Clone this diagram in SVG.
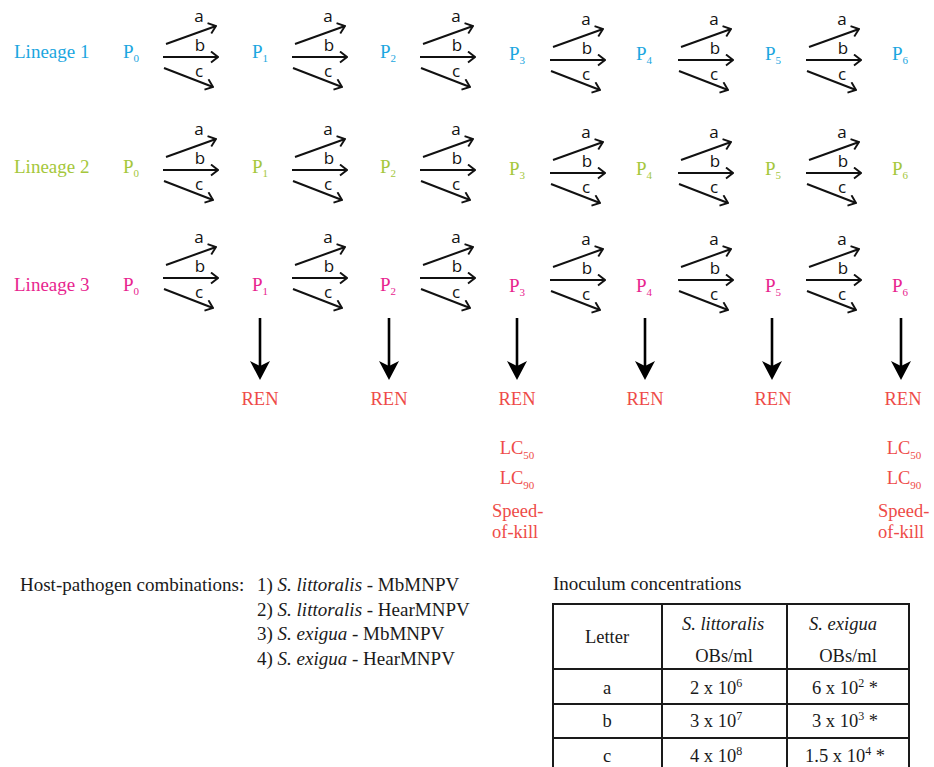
<svg xmlns="http://www.w3.org/2000/svg" width="934" height="767" viewBox="0 0 934 767">
<style>
.serif{font-family:"Liberation Serif","Times New Roman",serif;}
.lab{font-family:"Open Sans","DejaVu Sans",sans-serif;font-size:17px;fill:#111;text-anchor:middle;}
.l1{fill:#1BA6E0;}
.l2{fill:#A5C73C;}
.l3{fill:#E8258F;}
.red{fill:#EE4B48;}
.big{font-size:19px;}
.arr{stroke:#111;stroke-width:2;fill:none;marker-end:url(#open);}
.down{stroke:#000;stroke-width:2.6;}
.txt{font-size:19px;fill:#1a1a1a;}
.tb{font-size:18.5px;fill:#1a1a1a;text-anchor:middle;}
.grid{stroke:#1a1a1a;stroke-width:2;fill:none;}
</style>
<defs>
<marker id="open" viewBox="0 0 9 13" refX="8" refY="6.5" markerWidth="9" markerHeight="13" orient="auto" markerUnits="userSpaceOnUse">
<path d="M1,1 L8,6.5 L1,12" fill="none" stroke="#111" stroke-width="1.9"/>
</marker>
<path id="dhead" d="M0,0 L-10,-19 L0,-14 L10,-19 Z" fill="#000"/>
</defs>

<g id="lineage-labels" class="serif big">
<text id="lineage1" class="l1" x="14" y="58">Lineage 1</text>
<text id="lineage2" class="l2" x="14" y="173">Lineage 2</text>
<text id="lineage3" class="l3" x="14" y="291">Lineage 3</text>
</g>

<g id="row1" class="serif big l1">
<g id="r1p0"><text x="123" y="58">P<tspan dy="4" font-size="11">0</tspan></text></g>
<g id="r1p1"><text x="252" y="58">P<tspan dy="4" font-size="11">1</tspan></text></g>
<g id="r1p2"><text x="380" y="58">P<tspan dy="4" font-size="11">2</tspan></text></g>
<g id="r1p3"><text x="509" y="60">P<tspan dy="4" font-size="11">3</tspan></text></g>
<g id="r1p4"><text x="636" y="60">P<tspan dy="4" font-size="11">4</tspan></text></g>
<g id="r1p5"><text x="765" y="60">P<tspan dy="4" font-size="11">5</tspan></text></g>
<g id="r1p6"><text x="892" y="60">P<tspan dy="4" font-size="11">6</tspan></text></g>
</g>
<g id="row2" class="serif big l2">
<g id="r2p0"><text x="123" y="173">P<tspan dy="4" font-size="11">0</tspan></text></g>
<g id="r2p1"><text x="252" y="173">P<tspan dy="4" font-size="11">1</tspan></text></g>
<g id="r2p2"><text x="380" y="173">P<tspan dy="4" font-size="11">2</tspan></text></g>
<g id="r2p3"><text x="509" y="175">P<tspan dy="4" font-size="11">3</tspan></text></g>
<g id="r2p4"><text x="636" y="175">P<tspan dy="4" font-size="11">4</tspan></text></g>
<g id="r2p5"><text x="765" y="175">P<tspan dy="4" font-size="11">5</tspan></text></g>
<g id="r2p6"><text x="892" y="175">P<tspan dy="4" font-size="11">6</tspan></text></g>
</g>
<g id="row3" class="serif big l3">
<g id="r3p0"><text x="123" y="291">P<tspan dy="4" font-size="11">0</tspan></text></g>
<g id="r3p1"><text x="252" y="291">P<tspan dy="4" font-size="11">1</tspan></text></g>
<g id="r3p2"><text x="380" y="291">P<tspan dy="4" font-size="11">2</tspan></text></g>
<g id="r3p3"><text x="509" y="292">P<tspan dy="4" font-size="11">3</tspan></text></g>
<g id="r3p4"><text x="636" y="292">P<tspan dy="4" font-size="11">4</tspan></text></g>
<g id="r3p5"><text x="765" y="292">P<tspan dy="4" font-size="11">5</tspan></text></g>
<g id="r3p6"><text x="892" y="292">P<tspan dy="4" font-size="11">6</tspan></text></g>
</g>

<g id="connectors">
<g transform="translate(163,57)"><line class="arr" x1="3" y1="-13" x2="53" y2="-31"/><line class="arr" x1="0" y1="0" x2="55" y2="0"/><line class="arr" x1="1" y1="11" x2="50" y2="30"/><text class="lab" x="36" y="-35">a</text><text class="lab" x="37" y="-6">b</text><text class="lab" x="36" y="20">c</text></g>
<g transform="translate(292,57)"><line class="arr" x1="3" y1="-13" x2="53" y2="-31"/><line class="arr" x1="0" y1="0" x2="55" y2="0"/><line class="arr" x1="1" y1="11" x2="50" y2="30"/><text class="lab" x="36" y="-35">a</text><text class="lab" x="37" y="-6">b</text><text class="lab" x="36" y="20">c</text></g>
<g transform="translate(420,57)"><line class="arr" x1="3" y1="-13" x2="53" y2="-31"/><line class="arr" x1="0" y1="0" x2="55" y2="0"/><line class="arr" x1="1" y1="11" x2="50" y2="30"/><text class="lab" x="36" y="-35">a</text><text class="lab" x="37" y="-6">b</text><text class="lab" x="36" y="20">c</text></g>
<g transform="translate(550,60)"><line class="arr" x1="3" y1="-13" x2="53" y2="-31"/><line class="arr" x1="0" y1="0" x2="55" y2="0"/><line class="arr" x1="1" y1="11" x2="50" y2="30"/><text class="lab" x="36" y="-35">a</text><text class="lab" x="37" y="-6">b</text><text class="lab" x="36" y="20">c</text></g>
<g transform="translate(678,60)"><line class="arr" x1="3" y1="-13" x2="53" y2="-31"/><line class="arr" x1="0" y1="0" x2="55" y2="0"/><line class="arr" x1="1" y1="11" x2="50" y2="30"/><text class="lab" x="36" y="-35">a</text><text class="lab" x="37" y="-6">b</text><text class="lab" x="36" y="20">c</text></g>
<g transform="translate(806,60)"><line class="arr" x1="3" y1="-13" x2="53" y2="-31"/><line class="arr" x1="0" y1="0" x2="55" y2="0"/><line class="arr" x1="1" y1="11" x2="50" y2="30"/><text class="lab" x="36" y="-35">a</text><text class="lab" x="37" y="-6">b</text><text class="lab" x="36" y="20">c</text></g>

<g transform="translate(163,170)"><line class="arr" x1="3" y1="-13" x2="53" y2="-31"/><line class="arr" x1="0" y1="0" x2="55" y2="0"/><line class="arr" x1="1" y1="11" x2="50" y2="30"/><text class="lab" x="36" y="-35">a</text><text class="lab" x="37" y="-6">b</text><text class="lab" x="36" y="20">c</text></g>
<g transform="translate(292,170)"><line class="arr" x1="3" y1="-13" x2="53" y2="-31"/><line class="arr" x1="0" y1="0" x2="55" y2="0"/><line class="arr" x1="1" y1="11" x2="50" y2="30"/><text class="lab" x="36" y="-35">a</text><text class="lab" x="37" y="-6">b</text><text class="lab" x="36" y="20">c</text></g>
<g transform="translate(420,170)"><line class="arr" x1="3" y1="-13" x2="53" y2="-31"/><line class="arr" x1="0" y1="0" x2="55" y2="0"/><line class="arr" x1="1" y1="11" x2="50" y2="30"/><text class="lab" x="36" y="-35">a</text><text class="lab" x="37" y="-6">b</text><text class="lab" x="36" y="20">c</text></g>
<g transform="translate(550,173)"><line class="arr" x1="3" y1="-13" x2="53" y2="-31"/><line class="arr" x1="0" y1="0" x2="55" y2="0"/><line class="arr" x1="1" y1="11" x2="50" y2="30"/><text class="lab" x="36" y="-35">a</text><text class="lab" x="37" y="-6">b</text><text class="lab" x="36" y="20">c</text></g>
<g transform="translate(678,173)"><line class="arr" x1="3" y1="-13" x2="53" y2="-31"/><line class="arr" x1="0" y1="0" x2="55" y2="0"/><line class="arr" x1="1" y1="11" x2="50" y2="30"/><text class="lab" x="36" y="-35">a</text><text class="lab" x="37" y="-6">b</text><text class="lab" x="36" y="20">c</text></g>
<g transform="translate(806,173)"><line class="arr" x1="3" y1="-13" x2="53" y2="-31"/><line class="arr" x1="0" y1="0" x2="55" y2="0"/><line class="arr" x1="1" y1="11" x2="50" y2="30"/><text class="lab" x="36" y="-35">a</text><text class="lab" x="37" y="-6">b</text><text class="lab" x="36" y="20">c</text></g>

<g transform="translate(163,278)"><line class="arr" x1="3" y1="-13" x2="53" y2="-31"/><line class="arr" x1="0" y1="0" x2="55" y2="0"/><line class="arr" x1="1" y1="11" x2="50" y2="30"/><text class="lab" x="36" y="-35">a</text><text class="lab" x="37" y="-6">b</text><text class="lab" x="36" y="20">c</text></g>
<g transform="translate(292,278)"><line class="arr" x1="3" y1="-13" x2="53" y2="-31"/><line class="arr" x1="0" y1="0" x2="55" y2="0"/><line class="arr" x1="1" y1="11" x2="50" y2="30"/><text class="lab" x="36" y="-35">a</text><text class="lab" x="37" y="-6">b</text><text class="lab" x="36" y="20">c</text></g>
<g transform="translate(420,278)"><line class="arr" x1="3" y1="-13" x2="53" y2="-31"/><line class="arr" x1="0" y1="0" x2="55" y2="0"/><line class="arr" x1="1" y1="11" x2="50" y2="30"/><text class="lab" x="36" y="-35">a</text><text class="lab" x="37" y="-6">b</text><text class="lab" x="36" y="20">c</text></g>
<g transform="translate(550,280)"><line class="arr" x1="3" y1="-13" x2="53" y2="-31"/><line class="arr" x1="0" y1="0" x2="55" y2="0"/><line class="arr" x1="1" y1="11" x2="50" y2="30"/><text class="lab" x="36" y="-35">a</text><text class="lab" x="37" y="-6">b</text><text class="lab" x="36" y="20">c</text></g>
<g transform="translate(678,280)"><line class="arr" x1="3" y1="-13" x2="53" y2="-31"/><line class="arr" x1="0" y1="0" x2="55" y2="0"/><line class="arr" x1="1" y1="11" x2="50" y2="30"/><text class="lab" x="36" y="-35">a</text><text class="lab" x="37" y="-6">b</text><text class="lab" x="36" y="20">c</text></g>
<g transform="translate(806,280)"><line class="arr" x1="3" y1="-13" x2="53" y2="-31"/><line class="arr" x1="0" y1="0" x2="55" y2="0"/><line class="arr" x1="1" y1="11" x2="50" y2="30"/><text class="lab" x="36" y="-35">a</text><text class="lab" x="37" y="-6">b</text><text class="lab" x="36" y="20">c</text></g>

<g id="down-arrows">
<line class="down" x1="260" y1="318" x2="260" y2="368"/><use href="#dhead" x="260" y="380"/>
<line class="down" x1="389" y1="318" x2="389" y2="368"/><use href="#dhead" x="389" y="380"/>
<line class="down" x1="517" y1="318" x2="517" y2="368"/><use href="#dhead" x="517" y="380"/>
<line class="down" x1="645" y1="318" x2="645" y2="368"/><use href="#dhead" x="645" y="380"/>
<line class="down" x1="772" y1="318" x2="772" y2="368"/><use href="#dhead" x="772" y="380"/>
<line class="down" x1="901" y1="318" x2="901" y2="368"/><use href="#dhead" x="901" y="380"/>
</g>
</g>

<g id="ren" class="serif red" font-size="18.5" text-anchor="middle">
<g id="ren1"><text x="260" y="405">REN</text></g>
<g id="ren2"><text x="389" y="405">REN</text></g>
<g id="ren3"><text x="517" y="405">REN</text></g>
<g id="ren4"><text x="645" y="405">REN</text></g>
<g id="ren5"><text x="773" y="405">REN</text></g>
<g id="ren6"><text x="903" y="405">REN</text></g>
</g>

<g id="measures-p3" class="serif red" font-size="18.5">
<text x="517" y="454" text-anchor="middle">LC<tspan dy="5" font-size="11">50</tspan></text>
<text x="517" y="484" text-anchor="middle">LC<tspan dy="5" font-size="11">90</tspan></text>
<text x="492" y="517">Speed-</text>
<text x="492" y="538">of-kill</text>
</g>
<g id="measures-p6" class="serif red" font-size="18.5">
<text x="904" y="454" text-anchor="middle">LC<tspan dy="5" font-size="11">50</tspan></text>
<text x="904" y="484" text-anchor="middle">LC<tspan dy="5" font-size="11">90</tspan></text>
<text x="878" y="517">Speed-</text>
<text x="878" y="538">of-kill</text>
</g>

<g id="combinations" class="serif txt">
<text x="20" y="591">Host-pathogen combinations:</text>
<text x="257" y="591">1) <tspan font-style="italic">S. littoralis</tspan> - MbMNPV</text>
<text x="257" y="615.5">2) <tspan font-style="italic">S. littoralis</tspan> - HearMNPV</text>
<text x="257" y="640">3) <tspan font-style="italic">S. exigua</tspan> - MbMNPV</text>
<text x="257" y="664.5">4) <tspan font-style="italic">S. exigua</tspan> - HearMNPV</text>
</g>

<g id="inoculum-table" class="serif">
<text class="txt" x="553" y="590">Inoculum concentrations</text>
<rect class="grid" x="553" y="604" width="356" height="190"/>
<line class="grid" x1="662" y1="604" x2="662" y2="790"/>
<line class="grid" x1="787" y1="604" x2="787" y2="790"/>
<line class="grid" x1="553" y1="669" x2="909" y2="669"/>
<line class="grid" x1="553" y1="704" x2="909" y2="704"/>
<line class="grid" x1="553" y1="738" x2="909" y2="738"/>
<text class="tb" x="607" y="643">Letter</text>
<text class="tb" x="723" y="630" font-style="italic">S. littoralis</text>
<text class="tb" x="724" y="662">OBs/ml</text>
<text class="tb" x="843" y="630" font-style="italic">S. exigua</text>
<text class="tb" x="848" y="662">OBs/ml</text>
<text class="tb" x="607" y="694">a</text>
<text class="tb" x="716" y="694">2 x 10<tspan dy="-7" font-size="12">6</tspan></text>
<text class="tb" x="845" y="694">6 x 10<tspan dy="-7" font-size="12">2</tspan><tspan dy="7"> *</tspan></text>
<text class="tb" x="607" y="727">b</text>
<text class="tb" x="716" y="727">3 x 10<tspan dy="-7" font-size="12">7</tspan></text>
<text class="tb" x="845" y="727">3 x 10<tspan dy="-7" font-size="12">3</tspan><tspan dy="7"> *</tspan></text>
<text class="tb" x="607" y="762">c</text>
<text class="tb" x="716" y="762">4 x 10<tspan dy="-7" font-size="12">8</tspan></text>
<text class="tb" x="845" y="762">1.5 x 10<tspan dy="-7" font-size="12">4</tspan><tspan dy="7"> *</tspan></text>
</g>
</svg>
